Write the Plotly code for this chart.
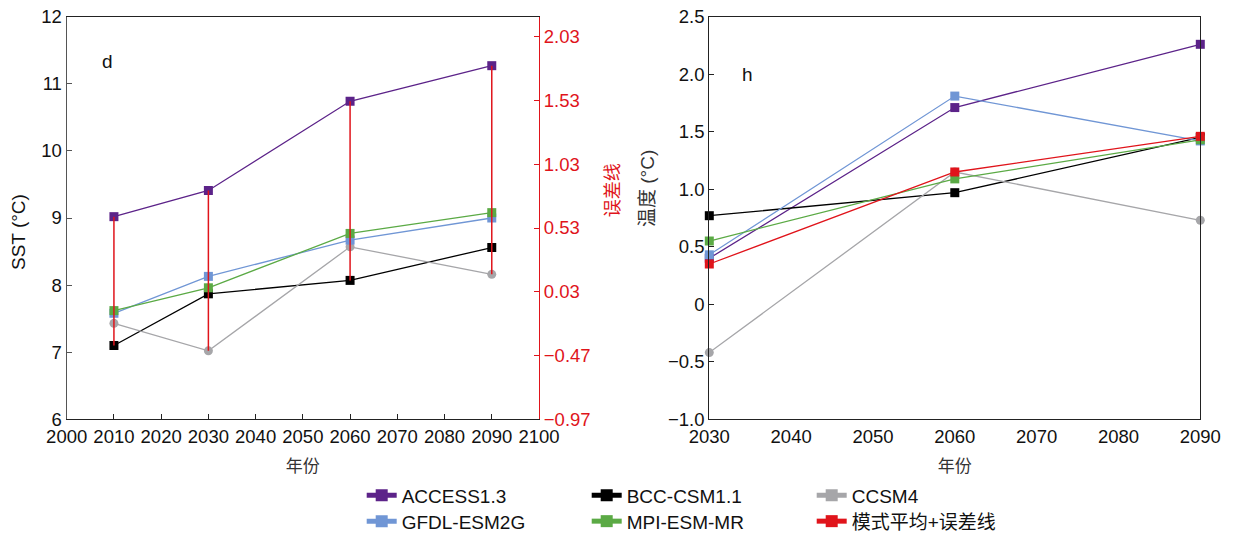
import plotly.graph_objects as go

# ---------------- data ----------------
years_d = [2010, 2030, 2060, 2090]
years_h = [2030, 2060, 2090]

models = ["ACCESS1.3", "BCC-CSM1.1", "CCSM4", "GFDL-ESM2G", "MPI-ESM-MR", "模式平均+误差线"]
colors = ["#5C2389", "#000000", "#A6A6A9", "#7096D5", "#5BAA45", "#E0141B"]
symbols = ["square", "square", "circle", "square", "square", "square"]

# panel d: SST (°C)
sst_access = [9.02, 9.41, 10.74, 11.27]
sst_bcc = [7.10, 7.87, 8.07, 8.56]
sst_ccsm4 = [7.43, 7.02, 8.57, 8.16]
sst_gfdl = [7.58, 8.13, 8.67, 9.00]
sst_mpi = [7.62, 7.96, 8.77, 9.08]
err_high = [9.02, 9.41, 10.74, 11.27]
err_low = [7.10, 7.02, 8.07, 8.16]

# panel h: 温度 (°C)
t_access = [0.40, 1.71, 2.26]
t_bcc = [0.77, 0.97, 1.45]
t_ccsm4 = [-0.42, 1.15, 0.73]
t_gfdl = [0.43, 1.81, 1.42]
t_mpi = [0.55, 1.09, 1.43]
t_mean = [0.35, 1.15, 1.46]

d_series = [sst_access, sst_bcc, sst_ccsm4, sst_gfdl, sst_mpi]
h_series = [t_access, t_bcc, t_ccsm4, t_gfdl, t_mpi, t_mean]

x_ticks_d = [2000, 2010, 2020, 2030, 2040, 2050, 2060, 2070, 2080, 2090, 2100]
y_ticks_d = [6, 7, 8, 9, 10, 11, 12]
y2_ticks = [-0.97, -0.47, 0.03, 0.53, 1.03, 1.53, 2.03]
y2_labels = ["\u22120.97", "\u22120.47", "0.03", "0.53", "1.03", "1.53", "2.03"]
x_ticks_h = [2030, 2040, 2050, 2060, 2070, 2080, 2090]
y_ticks_h = [-1.0, -0.5, 0, 0.5, 1.0, 1.5, 2.0, 2.5]
y_labels_h = ["\u22121.0", "\u22120.5", "0", "0.5", "1.0", "1.5", "2.0", "2.5"]

# ---------------- figure ----------------
W, H = 1235, 535
FONT = "Arial, 'Liberation Sans', 'Noto Sans CJK SC', sans-serif"
MS = 9
LW = 1.3
TFS = 18.5

fig = go.Figure()

# panel d model lines
for i, ys in enumerate(d_series):
    fig.add_trace(go.Scatter(
        x=years_d, y=ys, mode="lines+markers", name=models[i],
        line=dict(color=colors[i], width=LW),
        marker=dict(symbol=symbols[i], size=MS, color=colors[i]),
        xaxis="x", yaxis="y", showlegend=False, cliponaxis=False))

# panel d error lines (range across models)
ex, ey = [], []
for xv, lo, hi in zip(years_d, err_low, err_high):
    ex += [xv, xv, None]
    ey += [lo, hi, None]
fig.add_trace(go.Scatter(
    x=ex, y=ey, mode="lines", line=dict(color=colors[5], width=1.5),
    xaxis="x", yaxis="y", showlegend=False, hoverinfo="skip"))

# invisible trace to activate right axis
fig.add_trace(go.Scatter(x=[None], y=[None], xaxis="x", yaxis="y2",
                         showlegend=False, hoverinfo="skip"))

# panel h lines
for i, ys in enumerate(h_series):
    fig.add_trace(go.Scatter(
        x=years_h, y=ys, mode="lines+markers", name=models[i],
        line=dict(color=colors[i], width=LW),
        marker=dict(symbol=symbols[i], size=MS, color=colors[i]),
        xaxis="x3", yaxis="y3", showlegend=False, cliponaxis=False))

# legend entries (square symbols as in the reference legend)
for i, name in enumerate(models):
    fig.add_trace(go.Scatter(
        x=[None], y=[None], mode="lines+markers", name=name,
        line=dict(color=colors[i], width=LW),
        marker=dict(symbol="square", size=MS, color=colors[i]),
        xaxis="x3", yaxis="y3", showlegend=True,
        legend="legend" if i < 3 else "legend2"))

def px_x(p):
    return p / W

def px_y(p):
    return 1 - p / H

tickfont = dict(family=FONT, size=TFS, color="#111")
dom_y = [px_y(419.3), px_y(16.7)]

def label(text, x, y, size=19, color="#111", angle=0):
    return dict(text=text, x=px_x(x), y=px_y(y), xref="paper", yref="paper",
                xanchor="center", yanchor="middle", showarrow=False,
                textangle=angle, font=dict(size=size, color=color))

fig.update_layout(
    width=W, height=H,
    margin=dict(l=0, r=0, t=0, b=0, pad=0, autoexpand=False),
    paper_bgcolor="white", plot_bgcolor="white",
    font=dict(family=FONT, size=18, color="#111"),
    xaxis=dict(domain=[px_x(66.7), px_x(539.0)], range=[2000, 2100],
               tickvals=x_ticks_d, ticks="inside", ticklen=5, tickcolor="#222",
               showline=True, linecolor="#222", linewidth=1.2, mirror=True,
               showgrid=False, zeroline=False, tickfont=tickfont, automargin=False,
               title=dict(text="年份", font=dict(size=17, color="#333"), standoff=14),
               anchor="y"),
    yaxis=dict(domain=dom_y, range=[6, 12], tickvals=y_ticks_d,
               ticks="inside", ticklen=5, tickcolor="#555", automargin=False,
               showline=True, linecolor="#555", linewidth=1.2,
               showgrid=False, zeroline=False, tickfont=tickfont, anchor="x"),
    yaxis2=dict(overlaying="y", side="right", anchor="x", automargin=False,
                range=[-0.97, 2.187], tickvals=y2_ticks, ticktext=y2_labels,
                ticks="inside", ticklen=5, tickcolor="#E0141B",
                showline=True, linecolor="#E0141B", linewidth=1.2,
                showgrid=False, zeroline=False,
                tickfont=dict(family=FONT, size=TFS, color="#E0141B")),
    xaxis3=dict(domain=[px_x(709.3), px_x(1200.3)], range=[2030, 2090],
                tickvals=x_ticks_h, ticks="", automargin=False,
                showline=True, linecolor="#222", linewidth=1.2, mirror=True,
                showgrid=False, zeroline=False, tickfont=tickfont,
                title=dict(text="年份", font=dict(size=17, color="#333"), standoff=14),
                anchor="y3"),
    yaxis3=dict(domain=dom_y, range=[-1.0, 2.5], tickvals=y_ticks_h,
                ticktext=y_labels_h, ticks="inside", ticklen=5, tickcolor="#222",
                showline=True, linecolor="#222", linewidth=1.2, mirror=True,
                automargin=False,
                showgrid=False, zeroline=False, tickfont=tickfont, anchor="x3"),
    legend=dict(orientation="h", x=px_x(361.7), xanchor="left",
                y=px_y(495.3), yanchor="middle",
                entrywidth=180, entrywidthmode="pixels",
                font=dict(family=FONT, size=19, color="#111"),
                bgcolor="rgba(0,0,0,0)", itemsizing="constant", tracegroupgap=0),
    legend2=dict(orientation="h", x=px_x(361.7), xanchor="left",
                 y=px_y(521.3), yanchor="middle",
                 entrywidth=180, entrywidthmode="pixels",
                 font=dict(family=FONT, size=19, color="#111"),
                 bgcolor="rgba(0,0,0,0)", itemsizing="constant", tracegroupgap=0),
    annotations=[
        label("d", 107, 61.7),
        label("h", 747, 74),
        label("SST (°C)", 18.3, 231.7, angle=-90),
        label("误差线", 613.3, 190, size=18, color="#E0141B", angle=-90),
        label("温度 (°C)", 647, 189, color="#333", angle=-90),
    ],
)

fig.write_html("out.html")
